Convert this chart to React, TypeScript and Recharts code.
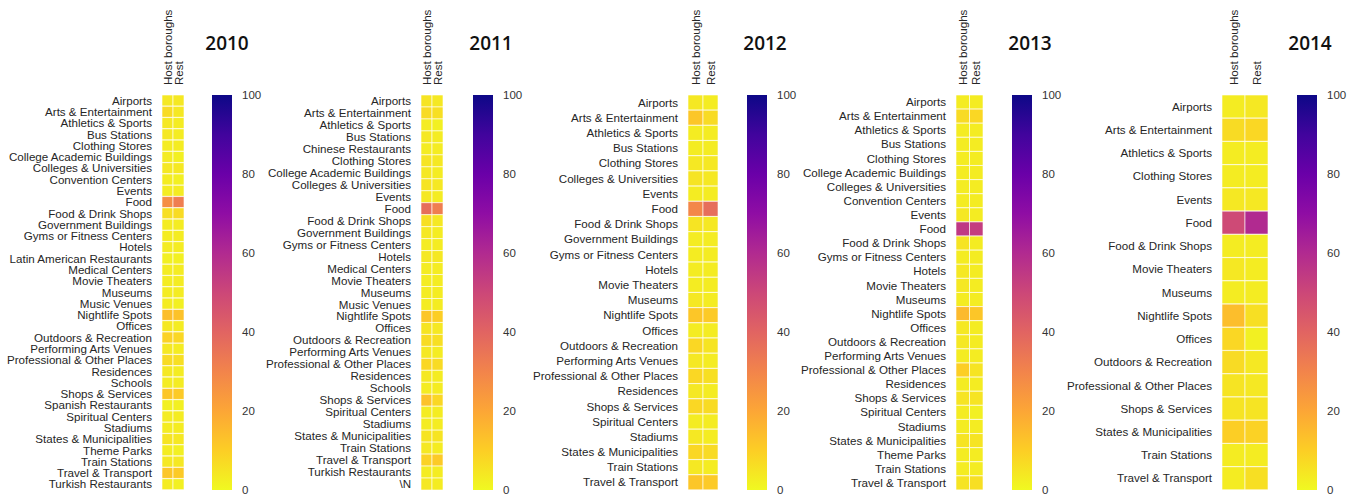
import React from 'react';
import { BarChart, Bar, XAxis, YAxis, Cell } from 'recharts';

// ---- data (percent of check-ins per venue category) ----
const cats2010 = [
  'Airports', 'Arts & Entertainment', 'Athletics & Sports', 'Bus Stations', 'Clothing Stores',
  'College Academic Buildings', 'Colleges & Universities', 'Convention Centers', 'Events', 'Food',
  'Food & Drink Shops', 'Government Buildings', 'Gyms or Fitness Centers', 'Hotels',
  'Latin American Restaurants', 'Medical Centers', 'Movie Theaters', 'Museums', 'Music Venues',
  'Nightlife Spots', 'Offices', 'Outdoors & Recreation', 'Performing Arts Venues',
  'Professional & Other Places', 'Residences', 'Schools', 'Shops & Services', 'Spanish Restaurants',
  'Spiritual Centers', 'Stadiums', 'States & Municipalities', 'Theme Parks', 'Train Stations',
  'Travel & Transport', 'Turkish Restaurants',
];
const host2010 = [4, 7, 4, 4, 3, 3, 4, 3, 3, 27, 6, 3, 3, 3, 2, 3, 3, 3, 3, 14, 4, 9, 4, 7, 4, 3, 12, 2, 3, 3, 5, 3, 4, 12, 3];
const rest2010 = [4, 4, 3, 3, 3, 2, 4, 2, 3, 32, 7, 3, 3, 3, 2, 3, 3, 3, 2, 13, 3, 8, 3, 6, 3, 3, 11, 2, 3, 3, 4, 2, 4, 11, 2];

const cats2011 = [
  'Airports', 'Arts & Entertainment', 'Athletics & Sports', 'Bus Stations', 'Chinese Restaurants',
  'Clothing Stores', 'College Academic Buildings', 'Colleges & Universities', 'Events', 'Food',
  'Food & Drink Shops', 'Government Buildings', 'Gyms or Fitness Centers', 'Hotels', 'Medical Centers',
  'Movie Theaters', 'Museums', 'Music Venues', 'Nightlife Spots', 'Offices', 'Outdoors & Recreation',
  'Performing Arts Venues', 'Professional & Other Places', 'Residences', 'Schools', 'Shops & Services',
  'Spiritual Centers', 'Stadiums', 'States & Municipalities', 'Train Stations', 'Travel & Transport',
  'Turkish Restaurants', '\\N',
];
const host2011 = [5, 7, 3, 4, 3, 5, 4, 5, 4, 37, 6, 4, 3, 4, 3, 3, 3, 3, 12, 5, 7, 4, 8, 4, 3, 13, 3, 3, 5, 4, 9, 3, 4];
const rest2011 = [4, 6, 2, 3, 3, 4, 3, 4, 3, 32, 4, 3, 3, 4, 3, 3, 3, 3, 10, 4, 6, 3, 7, 3, 3, 8, 3, 3, 5, 3, 11, 3, 3];

const cats2012 = [
  'Airports', 'Arts & Entertainment', 'Athletics & Sports', 'Bus Stations', 'Clothing Stores',
  'Colleges & Universities', 'Events', 'Food', 'Food & Drink Shops', 'Government Buildings',
  'Gyms or Fitness Centers', 'Hotels', 'Movie Theaters', 'Museums', 'Nightlife Spots', 'Offices',
  'Outdoors & Recreation', 'Performing Arts Venues', 'Professional & Other Places', 'Residences',
  'Shops & Services', 'Spiritual Centers', 'Stadiums', 'States & Municipalities', 'Train Stations',
  'Travel & Transport',
];
const host2012 = [4, 12, 3, 3, 4, 5, 3, 29, 5, 3, 3, 3, 3, 4, 12, 3, 8, 4, 8, 4, 8, 3, 4, 8, 4, 12];
const rest2012 = [3, 7, 3, 3, 4, 4, 3, 37, 4, 3, 3, 3, 3, 3, 11, 3, 5, 3, 6, 3, 7, 3, 3, 7, 3, 11];

const cats2013 = [
  'Airports', 'Arts & Entertainment', 'Athletics & Sports', 'Bus Stations', 'Clothing Stores',
  'College Academic Buildings', 'Colleges & Universities', 'Convention Centers', 'Events', 'Food',
  'Food & Drink Shops', 'Gyms or Fitness Centers', 'Hotels', 'Movie Theaters', 'Museums',
  'Nightlife Spots', 'Offices', 'Outdoors & Recreation', 'Performing Arts Venues',
  'Professional & Other Places', 'Residences', 'Shops & Services', 'Spiritual Centers', 'Stadiums',
  'States & Municipalities', 'Theme Parks', 'Train Stations', 'Travel & Transport',
];
const host2013 = [3, 7, 3, 3, 3, 3, 3, 3, 4, 55, 5, 3, 4, 4, 3, 15, 4, 4, 3, 10, 3, 5, 3, 3, 5, 3, 3, 5];
const rest2013 = [3, 8, 3, 3, 3, 3, 3, 3, 3, 53, 3, 3, 3, 3, 3, 12, 3, 3, 3, 5, 3, 5, 2, 3, 5, 3, 3, 6];

const cats2014 = [
  'Airports', 'Arts & Entertainment', 'Athletics & Sports', 'Clothing Stores', 'Events', 'Food',
  'Food & Drink Shops', 'Movie Theaters', 'Museums', 'Nightlife Spots', 'Offices',
  'Outdoors & Recreation', 'Professional & Other Places', 'Shops & Services',
  'States & Municipalities', 'Train Stations', 'Travel & Transport',
];
const host2014 = [3, 7, 3, 3, 4, 49, 3, 4, 3, 14, 8, 7, 5, 5, 10, 3, 3];
const rest2014 = [4, 8, 3, 3, 4, 60, 3, 3, 3, 6, 2, 4, 4, 5, 9, 3, 6];

const years = ['2010', '2011', '2012', '2013', '2014'];
const columnLabels = ['Host boroughs', 'Rest'];
const colorbarTicks = [0, 20, 40, 60, 80, 100];

// ---- layout ----
const PLOT_TOP = 95;
const CHART_H = 498;
const BOTTOM = 8;
const LABEL_W = 165;
const FONT = '"Liberation Sans", Arial, Helvetica, sans-serif';

const panels = [
  { cats: cats2010, host: host2010, rest: rest2010, cellsLeft: 162, cellsRight: 184, cbLeft: 212, titleX: 227 },
  { cats: cats2011, host: host2011, rest: rest2011, cellsLeft: 421, cellsRight: 443, cbLeft: 473, titleX: 491 },
  { cats: cats2012, host: host2012, rest: rest2012, cellsLeft: 688, cellsRight: 718, cbLeft: 747, titleX: 765 },
  { cats: cats2013, host: host2013, rest: rest2013, cellsLeft: 956, cellsRight: 983, cbLeft: 1012, titleX: 1030 },
  { cats: cats2014, host: host2014, rest: rest2014, cellsLeft: 1222, cellsRight: 1268, cbLeft: 1297, titleX: 1310 },
];

// plasma colormap, reversed so that 0 -> yellow, 100 -> dark blue
const PLASMA = ['#0d0887', '#41049d', '#6a00a8', '#8f0da4', '#b12a90', '#cc4778', '#e16462', '#f2844b', '#fca636', '#fcce25', '#f0f921'];

function hexToRgb(h: string) {
  return [parseInt(h.slice(1, 3), 16), parseInt(h.slice(3, 5), 16), parseInt(h.slice(5, 7), 16)];
}

function plasma(t: number) {
  const x = Math.min(1, Math.max(0, t)) * 10;
  const i = Math.min(9, Math.floor(x));
  const f = x - i;
  const a = hexToRgb(PLASMA[i]);
  const b = hexToRgb(PLASMA[i + 1]);
  const c = a.map((v, k) => Math.round(v + (b[k] - v) * f));
  return `rgb(${c[0]},${c[1]},${c[2]})`;
}

const cellColor = (v: number) => plasma(1 - v / 100);

const HeaderTick = (props: any) => {
  const { x, y, payload } = props;
  const label = columnLabels[payload.value > 1 ? 1 : 0];
  return (
    <text
      x={x}
      y={y}
      transform={`rotate(-90 ${x} ${y})`}
      dy="0.35em"
      textAnchor="start"
      fontSize={11.6}
      fill="#262626"
      fontFamily={FONT}
    >
      {label}
    </text>
  );
};

const CategoryTick = (props: any) => {
  const { x, y, payload } = props;
  return (
    <text x={x} y={y} dy="0.35em" textAnchor="end" fontSize={11.6} fill="#262626" fontFamily={FONT}>
      {payload.value}
    </text>
  );
};

const Heatmap = ({ cats, host, rest, cellsLeft, cellsRight }: any) => {
  const rows = cats.map((name: string, i: number) => ({ name, host: host[i], rest: rest[i], hostCell: 1, restCell: 1 }));
  const left = cellsLeft - LABEL_W;
  return (
    <div style={{ position: 'absolute', left, top: 0 }}>
      <BarChart
        layout="vertical"
        width={cellsRight - left}
        height={CHART_H}
        data={rows}
        margin={{ top: 5, right: 0, bottom: BOTTOM, left: 0 }}
        barCategoryGap={0}
      >
        <XAxis
          type="number"
          orientation="top"
          domain={[0, 2]}
          ticks={[0.5, 1.5]}
          height={PLOT_TOP - 5}
          tickLine={false}
          axisLine={false}
          tickSize={0}
          tickMargin={10}
          tick={<HeaderTick />}
          interval={0}
        />
        <YAxis
          type="category"
          dataKey="name"
          width={LABEL_W}
          interval={0}
          tickLine={false}
          axisLine={false}
          tickSize={0}
          tickMargin={10}
          tick={<CategoryTick />}
        />
        <Bar dataKey="hostCell" stackId="c" isAnimationActive={false}>
          {rows.map((r: any, i: number) => (
            <Cell key={i} fill={cellColor(r.host)} stroke="rgba(255,255,255,0.75)" strokeWidth={0.8} />
          ))}
        </Bar>
        <Bar dataKey="restCell" stackId="c" isAnimationActive={false}>
          {rows.map((r: any, i: number) => (
            <Cell key={i} fill={cellColor(r.rest)} stroke="rgba(255,255,255,0.75)" strokeWidth={0.8} />
          ))}
        </Bar>
      </BarChart>
    </div>
  );
};

const Colorbar = ({ cbLeft }: any) => (
  <div style={{ position: 'absolute', left: cbLeft, top: 0 }}>
    <BarChart
      width={20 + 40}
      height={CHART_H}
      data={[{ name: 'scale', span: 100 }]}
      margin={{ top: PLOT_TOP, right: 0, bottom: BOTTOM, left: 0 }}
      barCategoryGap={0}
    >
      <XAxis dataKey="name" hide />
      <YAxis
        orientation="right"
        domain={[0, 100]}
        ticks={colorbarTicks}
        width={40}
        tickLine={false}
        axisLine={false}
        tickSize={0}
        tickMargin={10}
        tick={{ fill: '#333', fontSize: 11.5, fontFamily: FONT }}
      />
      <Bar dataKey="span" fill="url(#plasmaGrad)" isAnimationActive={false} />
    </BarChart>
  </div>
);

export default function App() {
  return (
    <div style={{ position: 'absolute', left: 0, top: 0, width: 1355, height: 498, background: '#fff', overflow: 'hidden', fontFamily: FONT }}>
      <svg width={0} height={0} style={{ position: 'absolute' }}>
        <defs>
          <linearGradient id="plasmaGrad" x1="0" y1="1" x2="0" y2="0">
            {PLASMA.map((_, k) => (
              <stop key={k} offset={`${k * 10}%`} stopColor={PLASMA[10 - k]} />
            ))}
          </linearGradient>
        </defs>
      </svg>
      {panels.map((p, i) => (
        <React.Fragment key={years[i]}>
          <Heatmap {...p} />
          <Colorbar cbLeft={p.cbLeft} />
          <div
            style={{
              position: 'absolute',
              left: p.titleX - 40,
              width: 80,
              top: 29,
              textAlign: 'center',
              fontFamily: '"Open Sans", "Noto Sans", sans-serif',
              fontWeight: 600,
              fontSize: 19,
              lineHeight: '28px',
              color: '#111',
            }}
          >
            {years[i]}
          </div>
        </React.Fragment>
      ))}
    </div>
  );
}
